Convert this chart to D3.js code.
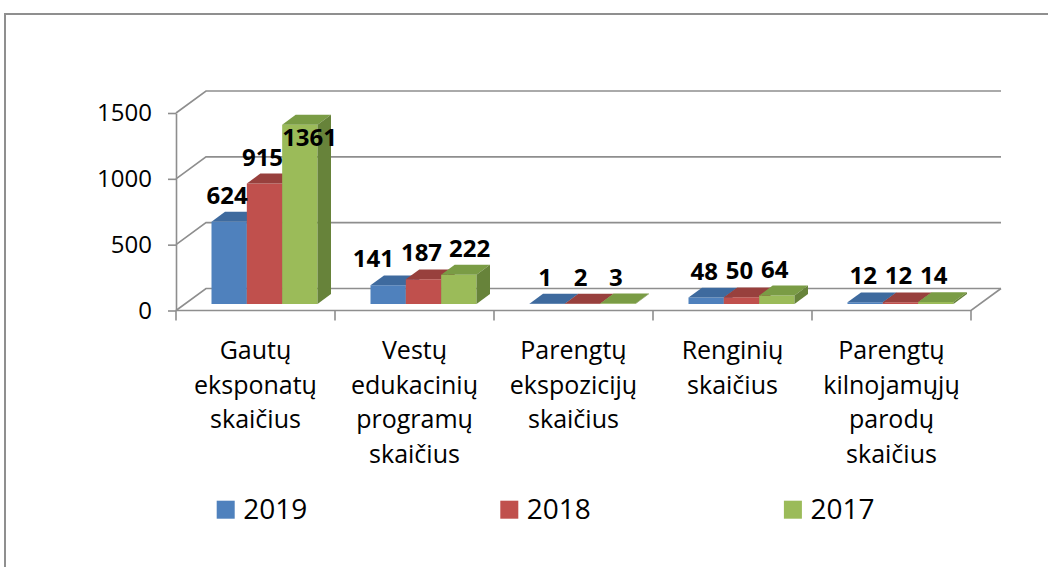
<!DOCTYPE html>
<html>
<head>
<meta charset="utf-8">
<script src="https://cdn.jsdelivr.net/npm/d3@7"></script>
<style>
  html, body { margin: 0; padding: 0; background: #ffffff; }
  svg { display: block; }
  text { font-family: "Open Sans", "Noto Sans", sans-serif; fill: #000; }
</style>
</head>
<body>
<svg id="chart" width="1048" height="567"></svg>
<script>
// ---- data ----
const categories = [
  "Gautų\neksponatų\nskaičius",
  "Vestų\nedukacinių\nprogramų\nskaičius",
  "Parengtų\nekspozicijų\nskaičius",
  "Renginių\nskaičius",
  "Parengtų\nkilnojamųjų\nparodų\nskaičius"
];
const series = ["2019", "2018", "2017"];
const values2019 = [624, 141, 1, 48, 12];
const values2018 = [915, 187, 2, 50, 12];
const values2017 = [1361, 222, 3, 64, 14];
const yTicks = [0, 500, 1000, 1500];

const seriesValues = [values2019, values2018, values2017];
const colFront = ["#4F81BD", "#C0504D", "#9BBB59"];
const colTop   = ["#3E6A9E", "#98403D", "#7A9C45"];
const colSide  = ["#35598A", "#8A3533", "#67833A"];

// ---- layout ----
const svg = d3.select("#chart");
const DX = 30, DY = -22;       // depth projection
const Z0 = 0.3, Z1 = 0.75;     // bar depth position
const gridColor = "#8e8e8e";

const x = d3.scaleBand().domain(d3.range(categories.length)).range([176, 971]).padding(0);
const xs = d3.scaleBand().domain(d3.range(series.length)).range([0, x.bandwidth()])
  .paddingInner(0).paddingOuter(0.75);
const y = d3.scaleLinear().domain([0, 1500]).range([310.5, 113]);

const P = (X, v, z) => [X + z * DX, y(v) + z * DY];
const poly = pts => "M" + pts.map(p => p[0].toFixed(2) + "," + p[1].toFixed(2)).join("L") + "Z";
const line = pts => "M" + pts.map(p => p[0].toFixed(2) + "," + p[1].toFixed(2)).join("L");

// outer frame
svg.append("rect").attr("x", 5).attr("y", 14).attr("width", 1200).attr("height", 700)
  .attr("fill", "none").attr("stroke", "#8f8f8f").attr("stroke-width", 2);

const [xL, xR] = x.range();

// gridlines (left wall + back wall)
svg.append("g").selectAll("path").data(yTicks).join("path")
  .attr("d", v => line([P(xL, v, 0), P(xL, v, 1), P(xR, v, 1)]))
  .attr("fill", "none").attr("stroke", gridColor).attr("stroke-width", 1.6);

// floor front edge + right edge
svg.append("path")
  .attr("d", line([P(xL, 0, 0), P(xR, 0, 0), P(xR, 0, 1)]))
  .attr("fill", "none").attr("stroke", gridColor).attr("stroke-width", 1.6);

// y axis
const yAxis = d3.axisLeft(y).tickValues(yTicks).tickFormat(d3.format("d"))
  .tickSize(8).tickSizeOuter(0).tickPadding(16);
const gy = svg.append("g").attr("transform", `translate(${xL},0)`).call(yAxis);
gy.select(".domain").attr("stroke", gridColor).attr("stroke-width", 1.6);
gy.selectAll(".tick line").attr("stroke", gridColor).attr("stroke-width", 1.6);
gy.selectAll(".tick text").attr("font-family", "Open Sans").attr("font-size", 24).attr("fill", "#000");

// category ticks
const bounds = categories.map((c, i) => x(i)).concat([xR]);
svg.append("g").selectAll("line").data(bounds).join("line")
  .attr("x1", d => d).attr("x2", d => d)
  .attr("y1", y(0)).attr("y2", y(0) + 10)
  .attr("stroke", gridColor).attr("stroke-width", 1.6);

// category labels
const catG = svg.append("g");
categories.forEach((c, i) => {
  const t = catG.append("text")
    .attr("x", x(i) + x.bandwidth() / 2).attr("y", 359)
    .attr("text-anchor", "middle").attr("font-size", 25);
  c.split("\n").forEach((w, k) => {
    t.append("tspan").attr("x", x(i) + x.bandwidth() / 2).attr("dy", k === 0 ? 0 : 34.5).text(w);
  });
});

// bars
const barsG = svg.append("g");
categories.forEach((c, i) => {
  series.forEach((s, j) => {
    const v = seriesValues[j][i];
    const X0 = x(i) + xs(j), X1 = X0 + xs.bandwidth();
    const g = barsG.append("g");
    g.append("path").attr("d", poly([P(X0, 0, Z0), P(X1, 0, Z0), P(X1, v, Z0), P(X0, v, Z0)])).attr("fill", colFront[j]);
    g.append("path").attr("d", poly([P(X0, v, Z0), P(X1, v, Z0), P(X1, v, Z1), P(X0, v, Z1)])).attr("fill", colTop[j]);
    g.append("path").attr("d", poly([P(X1, 0, Z0), P(X1, 0, Z1), P(X1, v, Z1), P(X1, v, Z0)])).attr("fill", colSide[j]);
  });
});

// data labels with simple collision handling
const labelG = svg.append("g");
const LABEL_FS = 24, CAP = 0.714 * LABEL_FS, MIN_TOP = 129, PAD = 7;
categories.forEach((c, i) => {
  const labs = series.map((s, j) => {
    const v = seriesValues[j][i];
    const X0 = x(i) + xs(j), X1 = X0 + xs.bandwidth();
    const frontC = (X0 + X1) / 2 + Z0 * DX;
    let cx = frontC - 2;
    let base = P(X0, v, Z1)[1] - 8;
    if (base - CAP < MIN_TOP) {
      base = MIN_TOP + CAP;
      cx = (X0 + X1) / 2 + ((Z0 + Z1) / 2) * DX + 3;
    }
    const t = labelG.append("text").attr("text-anchor", "middle")
      .attr("font-size", LABEL_FS).attr("font-weight", "bold").text(v);
    return { t, cx, base, w: t.node().getComputedTextLength() };
  });
  for (let it = 0; it < 60; it++) {
    for (let k = 0; k < labs.length - 1; k++) {
      const a = labs[k], b = labs[k + 1];
      const vOverlap = !(a.base <= b.base - CAP || b.base <= a.base - CAP);
      if (!vOverlap) continue;
      const need = (a.w + b.w) / 2 + PAD;
      const d = b.cx - a.cx;
      if (d < need) {
        const sh = (need - d) / 2;
        a.cx -= sh; b.cx += sh;
      }
    }
  }
  labs.forEach(l => l.t.attr("x", l.cx).attr("y", l.base));
});

// legend
const legendX = d3.scaleLinear().domain([0, 1]).range([216.7, 500.3]);
const lg = svg.append("g").selectAll("g").data(series).join("g")
  .attr("transform", (d, j) => `translate(${legendX(j)},500.7)`);
lg.append("rect").attr("width", 18).attr("height", 18).attr("fill", (d, j) => colFront[j]);
lg.append("text").attr("x", 26.5).attr("y", 18.3).attr("font-size", 28).text(d => d);
</script>
</body>
</html>
